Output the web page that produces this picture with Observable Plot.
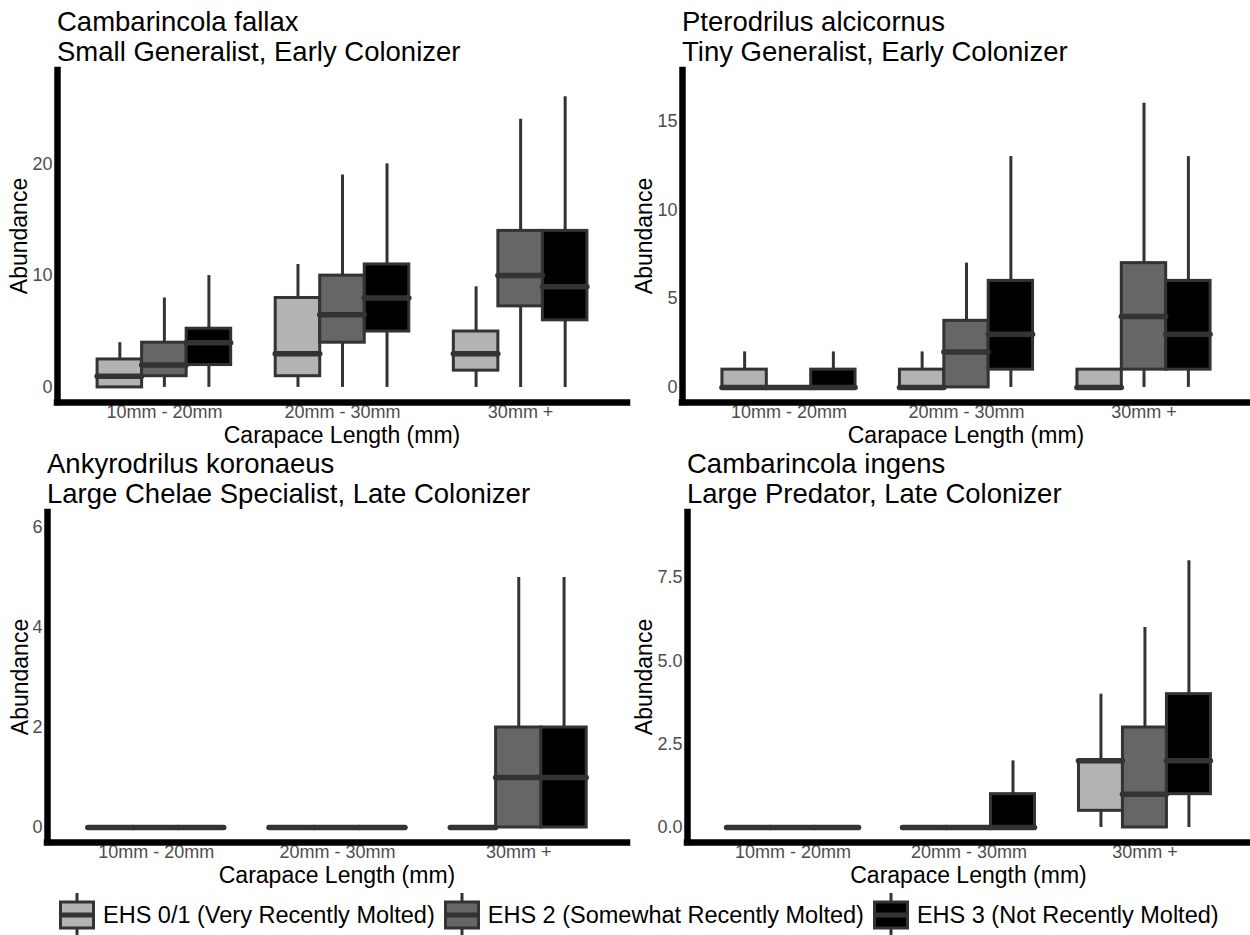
<!DOCTYPE html>
<html><head><meta charset="utf-8">
<script src="https://cdn.jsdelivr.net/npm/d3@7"></script>
<script src="https://cdn.jsdelivr.net/npm/@observablehq/plot@0.6"></script>
<style>
body{margin:0;background:#fff;}
#root{position:relative;width:1250px;height:935px;overflow:hidden;background:#fff;font-family:"Liberation Sans",Arial,Helvetica,sans-serif;color:#000;}
.pnl{position:absolute;}
.title{position:absolute;font-size:27.5px;line-height:30px;white-space:nowrap;}
.ytitle{position:absolute;font-size:23px;line-height:1;transform:translate(-50%,-50%) rotate(-90deg);white-space:nowrap;}
.xtitle{position:absolute;font-size:23px;line-height:1;transform:translate(-50%,-50%);white-space:nowrap;}
#legend{position:absolute;left:59px;top:893px;height:44px;display:flex;align-items:center;font-size:23.5px;white-space:nowrap;}
#legend svg{display:block;}
</style></head>
<body><div id="root"></div>
<script>
const categories = ["10mm - 20mm", "20mm - 30mm", "30mm +"];
const ehsGroups = ["EHS 0/1 (Very Recently Molted)", "EHS 2 (Somewhat Recently Molted)", "EHS 3 (Not Recently Molted)"];
const ehsColors = ["#b3b3b3", "#666666", "#000000"];
const xTitle = "Carapace Length (mm)";
const yTitle = "Abundance";

// each entry: [lower whisker, Q1, median, Q3, upper whisker]; category-major, EHS group order
const fallaxStats = [
  [0, 0, 1, 2.5, 4], [0, 1, 2, 4, 8], [0, 2, 4, 5.25, 10],
  [0, 1, 3, 8, 11], [0, 4, 6.5, 10, 19], [0, 5, 8, 11, 20],
  [0, 1.5, 3, 5, 9], [0, 7.25, 10, 14, 24], [0, 6, 9, 14, 26]
];
const alcicornusStats = [
  [0, 0, 0, 1, 2], [0, 0, 0, 0, 0], [0, 0, 0, 1, 2],
  [0, 0, 0, 1, 2], [0, 0, 2, 3.75, 7], [0, 1, 3, 6, 13],
  [0, 0, 0, 1, 1], [0, 1, 4, 7, 16], [0, 1, 3, 6, 13]
];
const koronaeusStats = [
  [0, 0, 0, 0, 0], [0, 0, 0, 0, 0], [0, 0, 0, 0, 0],
  [0, 0, 0, 0, 0], [0, 0, 0, 0, 0], [0, 0, 0, 0, 0],
  [0, 0, 0, 0, 0], [0, 0, 1, 2, 5], [0, 0, 1, 2, 5]
];
const ingensStats = [
  [0, 0, 0, 0, 0], [0, 0, 0, 0, 0], [0, 0, 0, 0, 0],
  [0, 0, 0, 0, 0], [0, 0, 0, 0, 0], [0, 0, 0, 1, 2],
  [0, 0.5, 2, 2, 4], [0, 0, 1, 3, 6], [0, 1, 2, 4, 8]
];

const fallaxTitle = ["Cambarincola fallax", "Small Generalist, Early Colonizer"];
const alcicornusTitle = ["Pterodrilus alcicornus", "Tiny Generalist, Early Colonizer"];
const koronaeusTitle = ["Ankyrodrilus koronaeus", "Large Chelae Specialist, Late Colonizer"];
const ingensTitle = ["Cambarincola ingens", "Large Predator, Late Colonizer"];

const fallaxTicks = [0, 10, 20];
const alcicornusTicks = [0, 5, 10, 15];
const koronaeusTicks = [0, 2, 4, 6];
const ingensTicks = [0, 2.5, 5, 7.5];

const root = document.getElementById("root");
const FONT = '"Liberation Sans", Arial, Helvetica, sans-serif';

function makePanel(p) {
  const rows = p.stats.map((s, i) => {
    const c = Math.floor(i / 3), g = i % 3;
    const x = c + 1 + (g - 1) * 0.25;
    return {cat: categories[c], group: ehsGroups[g], x, x1: x - 0.125, x2: x + 0.125,
            lo: s[0], q1: s[1], med: s[2], q3: s[3], hi: s[4]};
  });
  const chart = Plot.plot({
    width: p.w, height: 372,
    marginLeft: p.ml, marginRight: p.mr, marginTop: p.mt, marginBottom: 372 - p.mt - p.ph,
    style: {fontFamily: FONT, fontSize: "18px", color: "#4d4d4d", background: "transparent", overflow: "visible"},
    x: {domain: [0.4, 3.6], ticks: [1, 2, 3], tickFormat: d => categories[d - 1], tickSize: 0, tickPadding: 3, label: null},
    y: {domain: p.yDomain, ticks: p.ticks, tickFormat: p.fmt, tickSize: 0, tickPadding: 5, label: null},
    color: {domain: ehsGroups, range: ehsColors},
    marks: [
      Plot.ruleX(rows, {x: "x", y1: "lo", y2: "hi", stroke: "#333333", strokeWidth: 3}),
      Plot.rect(rows, {x1: "x1", x2: "x2", y1: "q1", y2: "q3", fill: "group", stroke: "#333333", strokeWidth: 3}),
      Plot.ruleY(rows, {x1: "x1", x2: "x2", y: "med", stroke: "#333333", strokeWidth: 5.5, strokeLinecap: "round"}),
      Plot.ruleX([0.4], {stroke: "#000", strokeWidth: 6.5, strokeLinecap: "square"}),
      Plot.ruleY([p.yDomain[0]], {stroke: "#000", strokeWidth: 6.5, strokeLinecap: "square"})
    ]
  });
  const wrap = document.createElement("div");
  wrap.className = "pnl";
  wrap.style.left = p.left + "px";
  wrap.style.top = p.top + "px";
  wrap.appendChild(chart);
  root.appendChild(wrap);

  const t = document.createElement("div");
  t.className = "title";
  t.style.left = (p.left + p.ml) + "px";
  t.style.top = (p.top + p.mt - 62.8) + "px";
  t.innerHTML = p.title[0] + "<br>" + p.title[1];
  root.appendChild(t);

  const yt = document.createElement("div");
  yt.className = "ytitle";
  yt.textContent = yTitle;
  yt.style.left = p.yx + "px";
  yt.style.top = (p.top + p.mt + p.ph / 2) + "px";
  root.appendChild(yt);

  const xt = document.createElement("div");
  xt.className = "xtitle";
  xt.textContent = xTitle;
  xt.style.left = (p.left + p.ml + (p.w - p.ml - p.mr) / 2) + "px";
  xt.style.top = (p.top + p.mt + p.ph + 33) + "px";
  root.appendChild(xt);
}

const intFmt = d => String(d);
const decFmt = d3.format(".1f");

makePanel({title: fallaxTitle, stats: fallaxStats, yDomain: [-1.35, 28.35], ticks: fallaxTicks, fmt: intFmt,
  left: 0, top: 60, w: 630, ml: 57, mr: 3, mt: 10, ph: 332, yx: 19});
makePanel({title: alcicornusTitle, stats: alcicornusStats, yDomain: [-0.85, 17.85], ticks: alcicornusTicks, fmt: intFmt,
  left: 630, top: 60, w: 620, ml: 52, mr: 0, mt: 10, ph: 332, yx: 644});
makePanel({title: koronaeusTitle, stats: koronaeusStats, yDomain: [-0.3, 6.3], ticks: koronaeusTicks, fmt: intFmt,
  left: 0, top: 500, w: 630, ml: 47, mr: 3, mt: 12, ph: 330, yx: 20});
makePanel({title: ingensTitle, stats: ingensStats, yDomain: [-0.45, 9.45], ticks: ingensTicks, fmt: decFmt,
  left: 630, top: 500, w: 620, ml: 57, mr: 0, mt: 12, ph: 330, yx: 644});

// legend
const legend = document.createElement("div");
legend.id = "legend";
ehsGroups.forEach((g, i) => {
  const ns = "http://www.w3.org/2000/svg";
  const svg = document.createElementNS(ns, "svg");
  svg.setAttribute("width", 36); svg.setAttribute("height", 44);
  svg.innerHTML =
    `<line x1="18" x2="18" y1="0" y2="44" stroke="#333" stroke-width="3"/>` +
    `<rect x="1.5" y="9" width="33" height="26" fill="${ehsColors[i]}" stroke="#333" stroke-width="3"/>` +
    `<line x1="1.5" x2="34.5" y1="22" y2="22" stroke="#333" stroke-width="5"/>`;
  legend.appendChild(svg);
  const s = document.createElement("span");
  s.textContent = g;
  s.style.marginLeft = "8px";
  s.style.marginRight = i < ehsGroups.length - 1 ? "9px" : "0";
  legend.appendChild(s);
});
root.appendChild(legend);
</script>
</body></html>
